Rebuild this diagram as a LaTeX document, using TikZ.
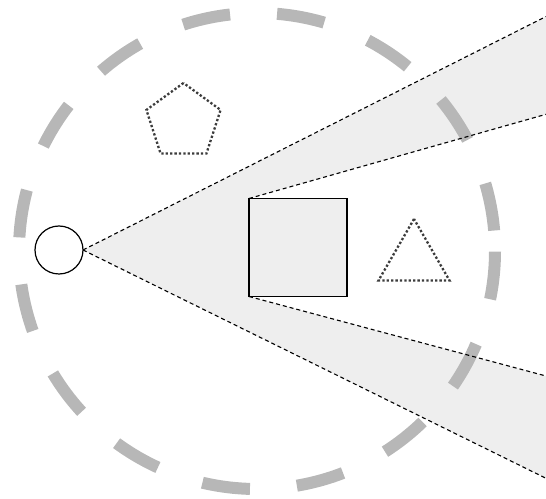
\documentclass[tikz,border=0pt]{standalone}
\usetikzlibrary{shapes.geometric,backgrounds}
\definecolor{conefill}{RGB}{238,238,238}
\definecolor{ringgray}{RGB}{183,183,183}
\definecolor{dotgray}{RGB}{60,60,60}
\tikzset{
  ring/.style={draw=ringgray, line width=12pt, dash pattern=on 48pt off 47.1pt, dash phase=74.6pt},
  ray/.style={draw=black, line width=1.1pt, dash pattern=on 4pt off 3pt},
  eye/.style={circle, draw=black, fill=white, line width=1.2pt, minimum size=48pt, inner sep=0pt, outer sep=0pt},
  block/.style={rectangle, draw=black, fill=conefill, line width=1.3pt, minimum width=98pt, minimum height=98pt, inner sep=0pt, outer sep=0pt},
  dotshape/.style={regular polygon, draw=dotgray, line width=2.3pt, dash pattern=on 2.3pt off 2.1pt, inner sep=0pt, outer sep=0pt}
}
\begin{document}
\begin{tikzpicture}[x=1pt,y=1pt]
\useasboundingbox (0,0) rectangle (546,498);
% nodes
\node[eye] (eyeN) at (59,248) {};
\node[block] (sq) at (298,250.5) {};
\node[dotshape, regular polygon sides=5, minimum size=78pt] (pent) at (183.5,376) {};
\node[dotshape, regular polygon sides=3, minimum size=82pt] (tri) at (414,238) {};
% right-edge end points
\coordinate (upO) at (546,481.5);
\coordinate (upI) at (546,383.7);
\coordinate (loI) at (546,122);
\coordinate (loO) at (546,19.7);
\coordinate (ringC) at (257,247);
\begin{scope}[on background layer]
% cone fill (minus shadow)
\fill[conefill] (eyeN.east) -- (upO) -- (upI) -- (sq.north west) -- (sq.south west) -- (loI) -- (loO) -- cycle;
% big dashed ring
\draw[ring] (ringC) circle (238);
% rays
\draw[ray] (eyeN.east) -- (upO);
\draw[ray] (eyeN.east) -- (loO);
\draw[ray] (sq.north west) -- (upI);
\draw[ray] (sq.south west) -- (loI);
\end{scope}
\end{tikzpicture}
\end{document}
